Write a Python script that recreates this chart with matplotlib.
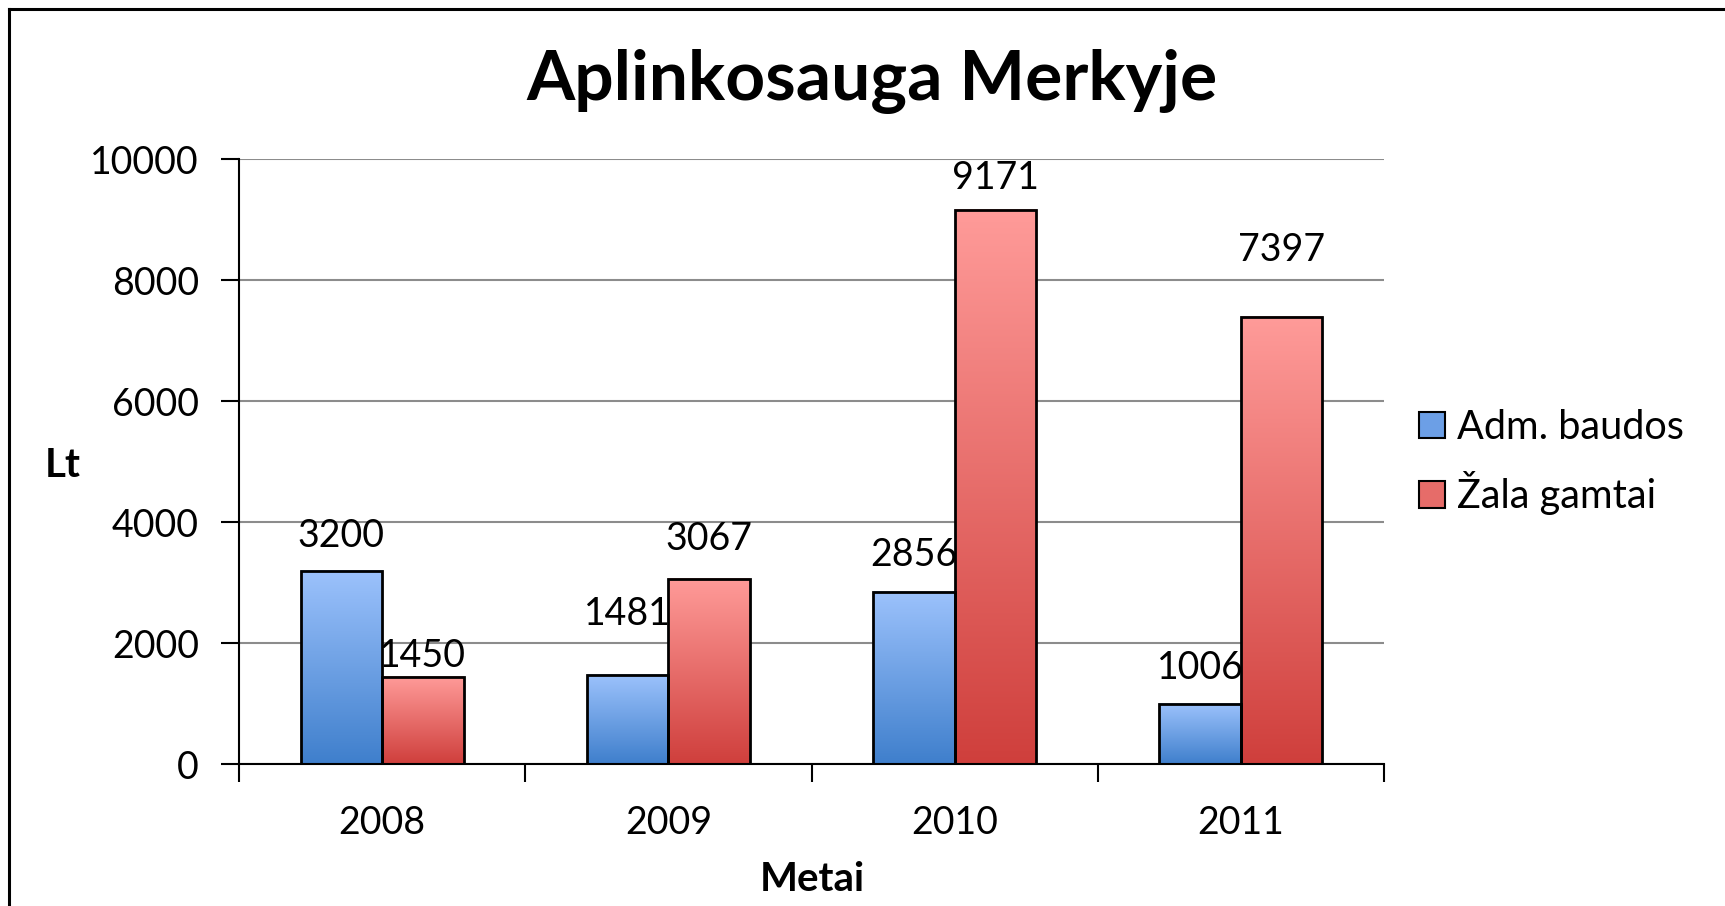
import numpy as np
import matplotlib
matplotlib.use("Agg")
import matplotlib.pyplot as plt
from matplotlib.colors import LinearSegmentedColormap
from matplotlib.patches import Patch
from matplotlib.lines import Line2D

plt.rcParams['font.family'] = ['Lato', 'DejaVu Sans']

metai = ['2008', '2009', '2010', '2011']
adm_baudos = [3200, 1481, 2856, 1006]
zala_gamtai = [1450, 3067, 9171, 7397]
serijos = ['Adm. baudos', 'Žala gamtai']

# kur padeti skaiciu virs stulpelio (Excel juos kilnojo ranka)
poslinkis_adm = [580, 1010, 600, 595]
poslinkis_zala = [350, 660, 520, 1110]

fig = plt.figure(figsize=(17.25, 9.06), dpi=100)
ax = fig.add_axes([0.1386, 0.1562, 0.8023 - 0.1386, 0.8240 - 0.1562])

melyna = LinearSegmentedColormap.from_list('m', ['#3f7fcc', '#9cc2fc'])
raudona = LinearSegmentedColormap.from_list('r', ['#cf3f3c', '#ff9b99'])

x = np.arange(len(metai))
plotis = 0.285
b1 = ax.bar(x - plotis / 2, adm_baudos, plotis, facecolor='none', edgecolor='black', linewidth=2, zorder=3)
b2 = ax.bar(x + plotis / 2, zala_gamtai, plotis, facecolor='none', edgecolor='black', linewidth=2, zorder=3)

grad = np.linspace(0, 1, 256).reshape(-1, 1)
for bars, cm in [(b1, melyna), (b2, raudona)]:
    for b in bars:
        bx, by = b.get_x(), b.get_y()
        ax.imshow(grad, cmap=cm, origin='lower', aspect='auto', zorder=2,
                  extent=[bx, bx + b.get_width(), by, by + b.get_height()])

for i in range(len(metai)):
    ax.text(x[i] - plotis / 2, adm_baudos[i] + poslinkis_adm[i], str(adm_baudos[i]),
            ha='center', va='center', fontsize=27, zorder=4)
    ax.text(x[i] + plotis / 2, zala_gamtai[i] + poslinkis_zala[i], str(zala_gamtai[i]),
            ha='center', va='center', fontsize=27, zorder=4)

ax.set_xlim(-0.5, len(metai) - 0.5)
ax.set_ylim(0, 10000)
ax.set_yticks([0, 2000, 4000, 6000, 8000, 10000])
ax.yaxis.grid(True, color='#8c8c8c', linewidth=1.5, zorder=0)
ax.set_axisbelow(True)
ax.set_xticks(x)
ax.set_xticklabels(metai)
ax.set_xticks(np.arange(len(metai) + 1) - 0.5, minor=True)
ax.tick_params(axis='x', which='major', length=0, labelsize=27, pad=29)
ax.tick_params(axis='x', which='minor', length=13, width=1.5, direction='out')
ax.tick_params(axis='y', length=13, width=1.5, labelsize=27, pad=16)
for s in ['top', 'right']:
    ax.spines[s].set_visible(False)
for s in ['left', 'bottom']:
    ax.spines[s].set_linewidth(1.5)

fig.text(0.5055, 0.91, 'Aplinkosauga Merkyje', ha='center', va='center', fontsize=50, fontweight='bold')
fig.text(0.0365, 0.486, 'Lt', ha='center', va='center', fontsize=29, fontweight='bold')
fig.text(0.4707, 0.029, 'Metai', ha='center', va='center', fontsize=29, fontweight='bold')

rankenos = [Patch(facecolor='#6c9fe6', edgecolor='black', linewidth=1.5),
            Patch(facecolor='#e66c69', edgecolor='black', linewidth=1.5)]
fig.legend(rankenos, serijos, loc='center left', bbox_to_anchor=(0.802, 0.49), frameon=False,
           fontsize=28.5, handlelength=0.65, handleheight=0.65, handletextpad=0.3, labelspacing=0.65)

# remelis (matosi tik kaire ir virsus)
fig.add_artist(Line2D([0.0052, 0.0052], [0, 0.9897], transform=fig.transFigure, color='black', linewidth=2.2))
fig.add_artist(Line2D([0.0052, 1], [0.9897, 0.9897], transform=fig.transFigure, color='black', linewidth=2.2))

fig.savefig('out.png', dpi=100)
